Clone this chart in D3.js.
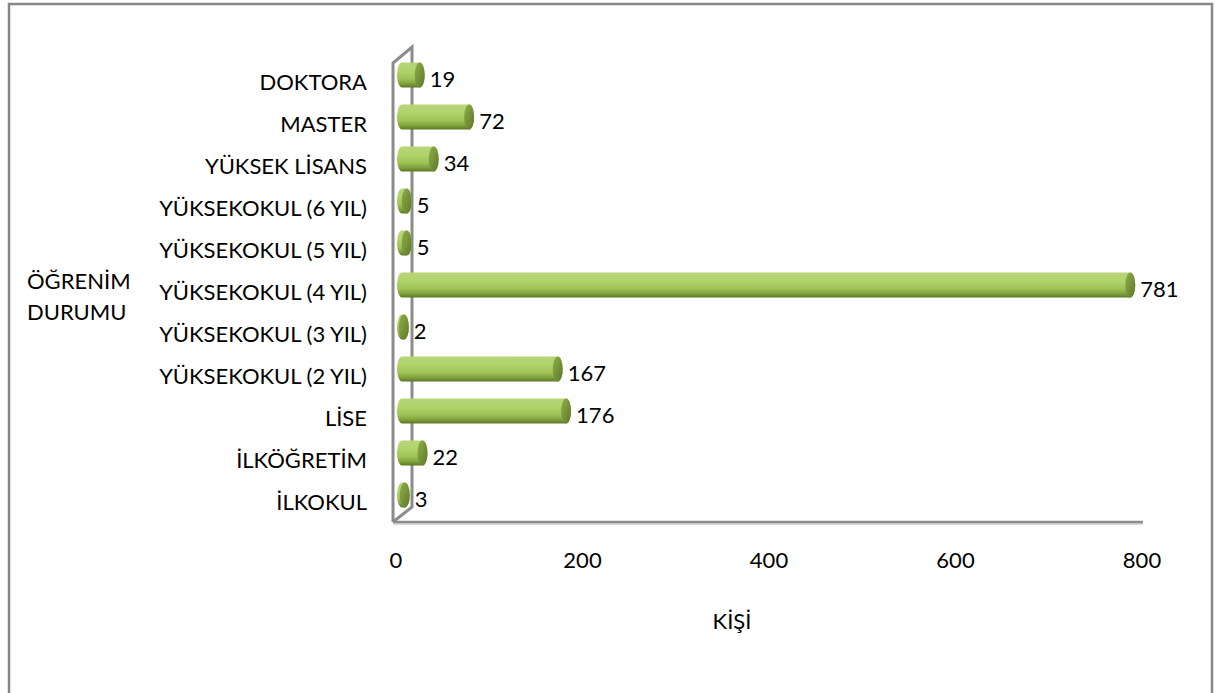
<!DOCTYPE html>
<html>
<head>
<meta charset="utf-8">
<script src="https://cdn.jsdelivr.net/npm/d3@7"></script>
<style>
  body { margin: 0; background: #fff; }
  svg text { font-family: Lato, "Open Sans", sans-serif; fill: #000; }
</style>
</head>
<body>
<svg id="chart" width="1215" height="693"></svg>
<script>
// categories from bottom to top, as in the chart
const categories = ["İLKOKUL", "İLKÖĞRETİM", "LİSE", "YÜKSEKOKUL (2 YIL)", "YÜKSEKOKUL (3 YIL)",
  "YÜKSEKOKUL (4 YIL)", "YÜKSEKOKUL (5 YIL)", "YÜKSEKOKUL (6 YIL)", "YÜKSEK LİSANS", "MASTER", "DOKTORA"];
const values = [3, 22, 176, 167, 2, 781, 5, 5, 34, 72, 19];
const xTicks = [0, 200, 400, 600, 800];

const svg = d3.select("#chart");
const fs = 22;

// outer frame (bottom edge runs past the picture)
svg.append("rect")
  .attr("x", 9).attr("y", 4).attr("width", 1203).attr("height", 720)
  .attr("fill", "none").attr("stroke", "#878787").attr("stroke-width", 2.5);

// --------------------
// Scales
// --------------------
const x = d3.scaleLinear().domain([0, 800]).range([396, 1142]);
const y = d3.scalePoint().domain(categories).range([495, 75]);

const depth = 6;       // bar sits a bit behind the front wall
const barH = 25;

// gradient for the cylinders
const defs = svg.append("defs");
const grad = defs.append("linearGradient").attr("id", "cyl")
  .attr("x1", 0).attr("y1", 0).attr("x2", 0).attr("y2", 1);
[[0, "#b8d678"], [0.35, "#b0d26a"], [0.65, "#9fc156"], [0.85, "#80a03c"], [1, "#5c7726"]]
  .forEach(s => grad.append("stop").attr("offset", s[0]).attr("stop-color", s[1]));
const capGrad = defs.append("linearGradient").attr("id", "cap")
  .attr("x1", 0).attr("y1", 0).attr("x2", 1).attr("y2", 1);
[[0, "#8fae4c"], [1, "#5d7828"]]
  .forEach(s => capGrad.append("stop").attr("offset", s[0]).attr("stop-color", s[1]));

// --------------------
// 3D wall / floor lines
// --------------------
const wall = svg.append("g").attr("stroke", "#8c8c8c").attr("stroke-width", 3).attr("fill", "none");
wall.append("path").attr("d", "M393,522 L393,63 L412,47 L412,507 L393,522");
svg.append("line").attr("x1", 393).attr("x2", 1143).attr("y1", 524).attr("y2", 524)
  .attr("stroke", "#d9d9d9").attr("stroke-width", 2);
svg.append("line").attr("x1", 393).attr("x2", 1143).attr("y1", 522).attr("y2", 522)
  .attr("stroke", "#8c8c8c").attr("stroke-width", 2.5);

// --------------------
// Bars as cylinders
// --------------------
const bars = svg.append("g").selectAll("g")
  .data(categories.map((c, i) => ({ cat: c, val: values[i] })))
  .enter().append("g")
  .attr("transform", d => "translate(0," + y(d.cat) + ")");

const rx = 5;
bars.append("path")
  .attr("d", d => {
    const x0 = x(0) + depth, x1 = x(d.val) + depth;
    const h = barH / 2;
    return "M" + x0 + "," + (-h) + " L" + x1 + "," + (-h) +
      " A" + rx + "," + h + " 0 0 1 " + x1 + "," + h +
      " L" + x0 + "," + h +
      " A" + rx + "," + h + " 0 0 1 " + x0 + "," + (-h) + "Z";
  })
  .attr("fill", "url(#cyl)");

bars.append("ellipse")
  .attr("cx", d => x(d.val) + depth)
  .attr("cy", 0)
  .attr("rx", rx).attr("ry", barH / 2)
  .attr("fill", "url(#cap)");

// value labels
bars.append("text")
  .attr("x", d => x(d.val) + depth + rx + 5)
  .attr("y", 4)
  .attr("dy", "0.35em")
  .attr("font-size", fs)
  .text(d => d.val);

// --------------------
// Axis labels
// --------------------
svg.append("g").selectAll("text")
  .data(categories).enter().append("text")
  .attr("x", 367)
  .attr("y", d => y(d) + 7)
  .attr("dy", "0.35em")
  .attr("text-anchor", "end")
  .attr("font-size", fs)
  .text(d => d);

svg.append("g").selectAll("text")
  .data(xTicks).enter().append("text")
  .attr("x", d => x(d))
  .attr("y", 560)
  .attr("dy", "0.35em")
  .attr("text-anchor", "middle")
  .attr("font-size", fs)
  .text(d => d);

svg.append("text")
  .attr("x", 732).attr("y", 621).attr("dy", "0.35em")
  .attr("text-anchor", "middle").attr("font-size", fs)
  .text("KİŞİ");

const yTitle = svg.append("text").attr("x", 27).attr("font-size", fs);
yTitle.append("tspan").attr("x", 27).attr("y", 289).text("ÖĞRENİM");
yTitle.append("tspan").attr("x", 27).attr("y", 320).text("DURUMU");
</script>
</body>
</html>
